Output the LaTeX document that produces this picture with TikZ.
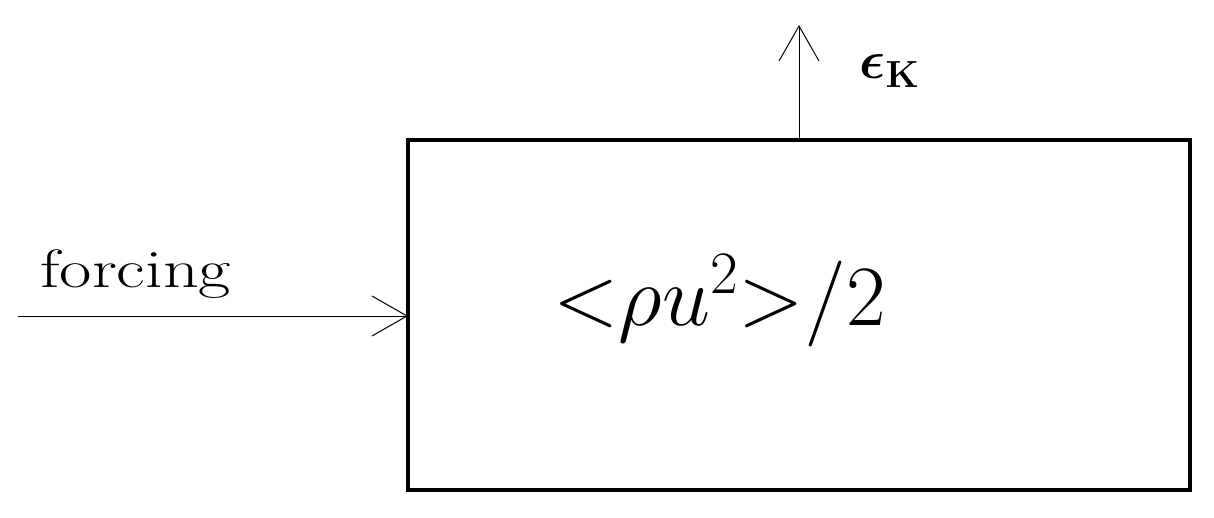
\RequirePackage{fix-cm}
\documentclass[tikz,border=0pt]{standalone}
\usepackage{bm}
\usetikzlibrary{arrows.meta}
\begin{document}
\begin{tikzpicture}[x=0.5pt,y=-0.5pt,
  box/.style={draw,line width=2pt},
  flow/.style={line width=0.5pt,-{Straight Barb[length=17.5pt,width=20pt,line width=0.5pt]}},
  lbl/.style={inner sep=0pt,anchor=base west}]
\useasboundingbox (0,0) rectangle (1214,518);
\coordinate (nw) at (408,140);
\coordinate (se) at (1190,490);
\draw[box] (nw) rectangle (se);
\coordinate (inpt) at (408,316);
\coordinate (src) at (18,316);
\coordinate (topmid) at (799,140);
\coordinate (sink) at (799,25);
\draw[flow] (src) -- (inpt);
\draw[flow] (topmid) -- (sink);
\node[lbl,xscale=1.3] (forcing) at (40,287) {\fontsize{27}{32}\selectfont forcing};
\node[lbl] (energy) at (553,325) {\fontsize{43}{50}\selectfont $\mathord{<}\rho u^{2}\mathord{>}/2$};
\node[lbl] (eps) at (859,79) {\fontsize{27}{32}\selectfont $\bm{\epsilon}_{\mathbf{K}}$};
\end{tikzpicture}
\end{document}
